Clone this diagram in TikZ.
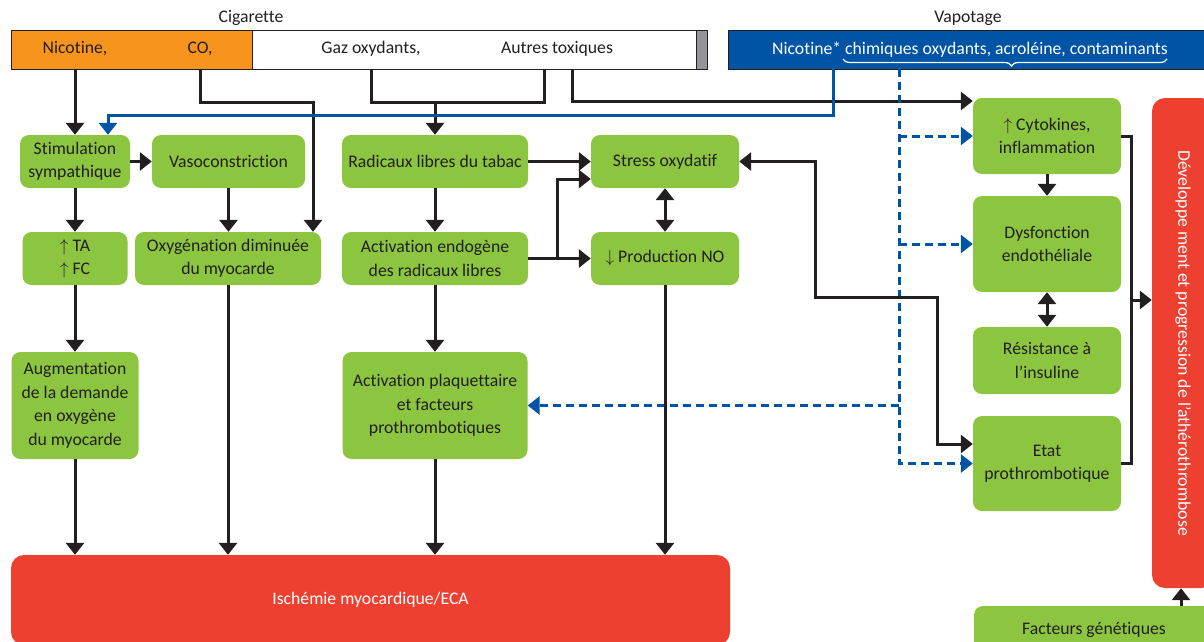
\documentclass[tikz,border=0pt]{standalone}
\usepackage{fontspec}
\setmainfont{Carlito}[Ligatures=NoCommon]
\usetikzlibrary{arrows.meta,decorations.pathreplacing}
\definecolor{grn}{HTML}{8CC540}
\definecolor{ink}{HTML}{231F20}
\definecolor{redb}{HTML}{EE4031}
\definecolor{orng}{HTML}{F7941D}
\definecolor{blu}{HTML}{0054A6}
\definecolor{gry}{HTML}{939598}
\begin{document}
\begin{tikzpicture}[x=1pt,y=-1pt,
  every node/.style={font=\fontsize{17.7}{23.5}\selectfont, text=ink},
  gbox/.style={fill=grn, rounded corners=9pt, align=center, inner sep=2pt},
  rbox/.style={fill=redb, rounded corners=13pt, align=center, text=white, inner sep=2pt},
  ln/.style={line width=3pt, draw=ink},
  arr/.style={ln, -{Triangle[width=18pt,length=12pt]}},
  darr/.style={ln, {Triangle[width=18pt,length=12pt]}-{Triangle[width=18pt,length=12pt]}},
  bln/.style={line width=3pt, draw=blu},
  barr/.style={bln, -{Triangle[width=18pt,length=12pt]}},
  bdarr/.style={bln, dash pattern=on 8pt off 5pt, -{Triangle[width=18pt,length=12pt]}},
  hbox/.style={draw=ink, line width=0.8pt, inner sep=0pt, minimum height=39pt}
]
\path[use as bounding box, clip] (0,0) rectangle (1204,642);

% header
\node (lcig) at (251,18) {Cigarette};
\node (lvap) at (968,18) {Vapotage};
\node[hbox, fill=orng, minimum width=241pt] (cigO) at (131.5,49.5) {};
\node[hbox, fill=white, minimum width=444pt] (cigW) at (474,49.5) {};
\node[hbox, fill=gry, minimum width=11pt] (cigG) at (701.5,49.5) {};
\node (nic) at (75,49) {Nicotine,};
\node (co) at (200,49) {CO,};
\node (gaz) at (371,49) {Gaz oxydants,};
\node (aut) at (557,49) {Autres toxiques};
\node[hbox, fill=blu, minimum width=483pt, text=white] (vap) at (970,49.5) {Nicotine* chimiques oxydants, acroléine, contaminants};
\draw[white, line width=1.2pt, decorate, decoration={brace, mirror, amplitude=7pt, aspect=0.52}] (843,59) -- (1167,59);

% green boxes
\node[gbox, minimum width=110pt, minimum height=53pt] (stim) at (75,161.5) {Stimulation\\sympathique};
\node[gbox, minimum width=153pt, minimum height=53pt] (vaso) at (228.5,161.5) {Vasoconstriction};
\node[gbox, minimum width=105pt, minimum height=53pt] (ta) at (75,258.5) {$\uparrow$ TA\\$\uparrow$ FC};
\node[gbox, minimum width=186pt, minimum height=53pt] (oxy) at (228,258.5) {Oxygénation diminuée\\du myocarde};
\node[gbox, minimum width=127pt, minimum height=107pt] (aug) at (75,405.5) {Augmentation\\de la demande\\en oxygène\\du myocarde};
\node[gbox, minimum width=186pt, minimum height=53pt] (rad) at (435,161.5) {Radicaux libres du tabac};
\node[gbox, minimum width=186pt, minimum height=53pt] (endo) at (435,258.5) {Activation endogène\\des radicaux libres};
\node[gbox, minimum width=185pt, minimum height=107pt] (plaq) at (435,405.5) {Activation plaquettaire\\et facteurs\\prothrombotiques};
\node[gbox, minimum width=148pt, minimum height=53pt] (stress) at (665,161.5) {Stress oxydatif};
\node[gbox, minimum width=148pt, minimum height=53pt] (no) at (665,258.5) {$\downarrow$ Production NO};
\node[gbox, minimum width=148pt, minimum height=76pt] (cyto) at (1047,136) {$\uparrow$ Cytokines,\\inflammation};
\node[gbox, minimum width=148pt, minimum height=96pt] (dys) at (1047,244) {Dysfonction\\endothéliale};
\node[gbox, minimum width=148pt, minimum height=67pt] (res) at (1047,360.5) {Résistance à\\l’insuline};
\node[gbox, minimum width=148pt, minimum height=95pt] (etat) at (1047,463.5) {Etat\\prothrombotique};
\node[gbox, minimum width=240pt, minimum height=54pt] (gen) at (1094,633) {\raisebox{9pt}{Facteurs génétiques}};

% red boxes
\node[rbox, minimum width=719pt, minimum height=90pt] (isch) at (370.5,600) {Ischémie myocardique/ECA};
\node[rbox, rotate=-90, minimum width=490pt, minimum height=62pt] (dev) at (1183,343) {Développe ment et progression de l’athérothrombose};

% cigarette connectors
\draw[arr] (nic |- cigO.south) -- (stim.north);
\draw[arr] (co |- cigO.south) |- (313,102) -- (313,0 |- oxy.north);
\draw[ln] (gaz |- cigW.south) |- (544,102) -- (544,0 |- cigW.south);
\draw[arr] (435,102) -- (rad.north);
\draw[arr] (572,0 |- cigW.south) |- (cyto.west |- 0,101);

% vapotage connectors
\draw[barr] (833,0 |- vap.south) |- (108,115) -- (108,0 |- stim.north);
\draw[bdarr] (899,0 |- vap.south) -- (899,0 |- etat.west) -- (etat.west);
\draw[bdarr] (899,0 |- cyto.west) -- (cyto.west);
\draw[bdarr] (899,0 |- dys.west) -- (dys.west);
\draw[bdarr] (899,0 |- plaq.east) -- (plaq.east);

% left column
\draw[arr] (stim.east) -- (vaso.west);
\draw[arr] (stim.south) -- (stim.south |- ta.north);
\draw[arr] (vaso.south) -- (vaso.south |- oxy.north);
\draw[arr] (ta.south) -- (ta.south |- aug.north);
\draw[arr] (aug.south) -- (aug.south |- isch.north);
\draw[arr] (oxy.south) -- (oxy.south |- isch.north);

% middle
\draw[arr] (rad.east) -- (stress.west);
\draw[arr] (rad.south) -- (endo.north);
\draw[arr] (endo.south) -- (plaq.north);
\draw[arr] (plaq.south) -- (plaq.south |- isch.north);
\draw[arr] (endo.east) -- (no.west);
\draw[arr] (557,0 |- endo.east) |- (stress.west |- 0,179);
\draw[darr] (stress.south) -- (no.north);
\draw[arr] (no.south) -- (no.south |- isch.north);
\draw[darr] (stress.east) -| (815,297) -| (937,444) -- (etat.west |- 0,444);

% right column
\draw[arr] (cyto.south) -- (dys.north);
\draw[darr] (dys.south) -- (res.north);
\draw[ln] (cyto.east) -| (1131,300) |- (etat.east);
\draw[arr] (1131,300) -- (dev.south |- 0,300);
\draw[arr] (1181,0 |- gen.north) -- (1181,0 |- dev.east);
\end{tikzpicture}
\end{document}
